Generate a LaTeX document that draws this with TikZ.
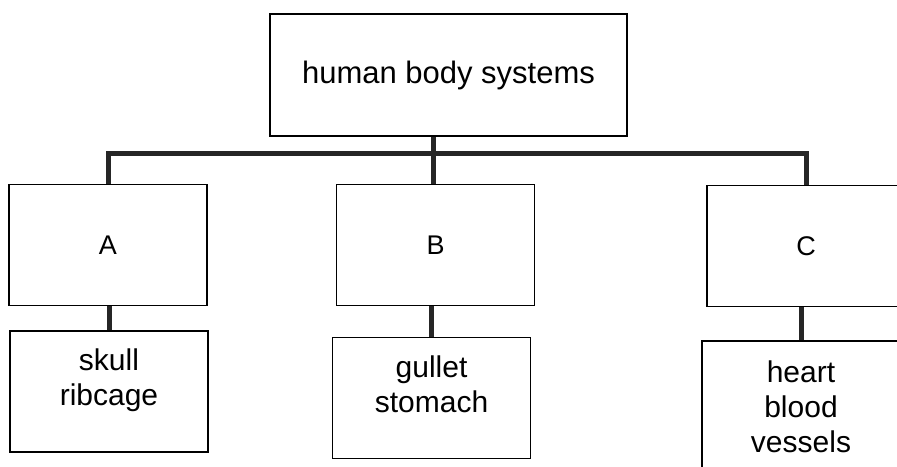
\documentclass[tikz,border=0pt]{standalone}
\usepackage{fontspec}
\setmainfont{Liberation Sans}
\usetikzlibrary{positioning}

\begin{document}
\begin{tikzpicture}[
  x=1pt, y=-1pt,
  topbox/.style={rectangle, minimum width=357pt, minimum height=122pt,
    text centered, draw=black, line width=1.6pt, font=\fontsize{31}{36}\selectfont},
  groupbox/.style={rectangle, minimum width=198pt, minimum height=121pt,
    text centered, draw=black, line width=1.6pt, font=\fontsize{27}{32}\selectfont},
  partbox/.style={rectangle, minimum width=198pt, minimum height=121pt,
    align=center, text depth=28pt, draw=black, line width=1.6pt,
    font=\fontsize{30}{35}\selectfont},
  link/.style={line width=5pt, draw=black!85}
]
\clip (0,0) rectangle (897,466);

\node (top) [topbox] at (448.5,75) {human body systems};
\node (A) [groupbox] at (108,245) {A};
\node (B) [groupbox] at (435.5,245) {B};
\node (C) [groupbox] at (806,246) {C};
\node (skull) [partbox] at (109,391.5) {skull\\ribcage};
\node (gullet) [partbox] at (431.5,398) {gullet\\stomach};
\node (heart) [partbox, minimum height=160pt, anchor=north] at (801,340) {heart\\blood\\vessels};

\coordinate (bar) at (433,153);

\draw [link] (top.south -| bar) -- (B.north -| bar);
\draw [link] (A.north) -- (A.north |- bar) -- (C.north |- bar) -- (C.north);
\draw [link] (A.south -| skull.north) -- (skull.north);
\draw [link] (B.south -| gullet.north) -- (gullet.north);
\draw [link] (C.south -| heart.north) -- (heart.north);

\end{tikzpicture}
\end{document}
